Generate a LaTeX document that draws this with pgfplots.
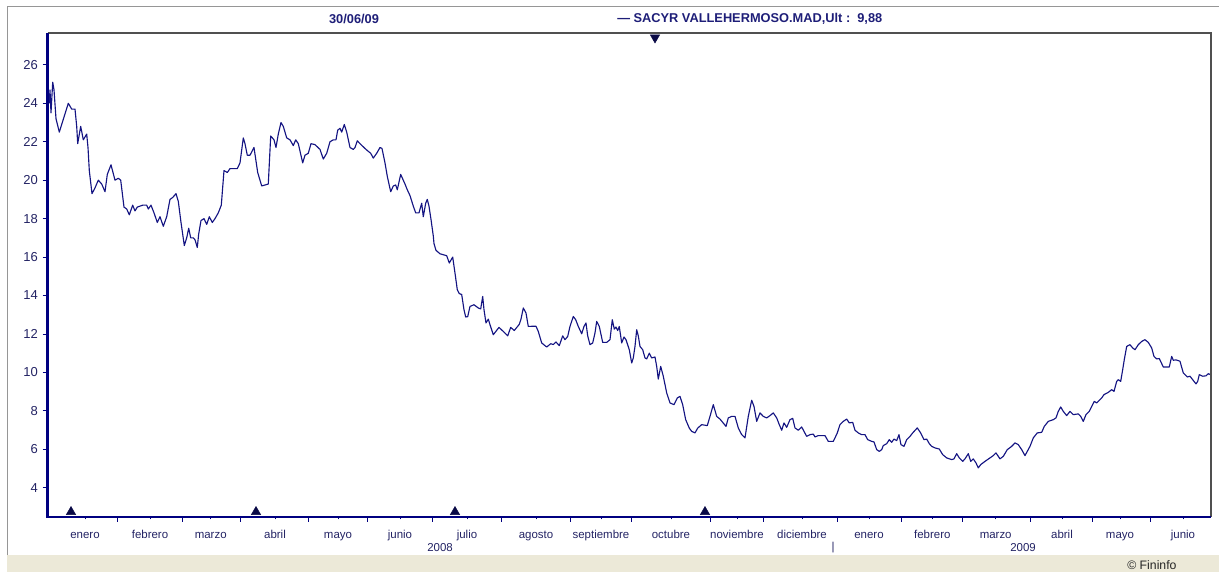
\documentclass[border=0pt]{standalone}
\usepackage{pgfplots}
\pgfplotsset{compat=1.18}
\usepackage{fontspec}
\setmainfont{Liberation Sans}
\definecolor{linenavy}{RGB}{20,20,130}
\definecolor{axisnavy}{RGB}{0,0,128}
\definecolor{ticktext}{RGB}{35,35,100}
\definecolor{headnavy}{RGB}{30,30,120}
\definecolor{beige}{RGB}{236,233,216}
\definecolor{framegray}{RGB}{150,150,150}
\definecolor{axgray}{RGB}{80,80,80}
\definecolor{marknavy}{RGB}{10,10,70}
\begin{document}
\begin{tikzpicture}
\begin{scope}[x=0.75pt,y=0.75pt]
\useasboundingbox (0,0) rectangle (1219,572);
\fill[beige] (7,0) rectangle (1219,17);
\draw[framegray, line width=0.75pt] (7,17) -- (7,565) -- (1219,565);
\end{scope}
\begin{axis}[
  at={(35.625pt,41.475pt)}, anchor=south west,
  scale only axis, width=872.6pt, height=362.8pt,
  xmin=47.5, xmax=1211, ymin=2.49, ymax=27.66,
  axis line style={draw=none},
  clip=false,
  /pgf/number format/assume math mode=true,
  tick align=outside,
  ytick pos=left, xtick pos=bottom,
  major tick length=3.75pt,
  tick style={draw=axisnavy, line width=0.6pt},
  ytick={4,6,...,26},
  yticklabel style={font=\fontsize{9.75}{11}\selectfont, text=ticktext},
  xtick={117.3,182.3,240.7,308.3,367.7,432.3,501.7,570.3,631.7,710.3,763.7,837.3,901,962.3,1030.7,1092,1150.7},
  xticklabels={},
  extra x ticks={85,150,210.7,275,338,400,467,536,601,671,737,802,869,932.3,995.7,1062,1120,1183},
  extra x tick labels={enero,febrero,marzo,abril,mayo,junio,julio,agosto,septiembre,octubre,noviembre,diciembre,enero,febrero,marzo,abril,mayo,junio},
  extra x tick style={major tick length=2pt},
  xticklabel style={font=\fontsize{8.6}{10}\selectfont, text=ticktext, text height=1.6ex, text depth=0.4ex, yshift=-2.5pt},
]
\addplot[linenavy, line width=0.85pt, line join=round] coordinates {
(49.3,24.0)(50.0,24.7)(51.0,23.5)(52.7,25.1)(54.0,24.7)(56.0,23.2)(59.3,22.5)(68.3,24.0)(71.7,23.7)(75.0,23.7)(76.7,22.8)(77.7,21.9)(80.7,22.8)(83.3,22.1)(86.7,22.4)(88.0,21.7)(89.3,20.5)(92.0,19.3)(95.0,19.6)(98.3,20.0)(101.7,19.8)(105.0,19.4)(107.3,20.3)(111.0,20.8)(115.0,20.0)(118.3,20.1)(120.7,20.0)(124.0,18.6)(126.7,18.5)(129.3,18.2)(132.7,18.7)(135.0,18.4)(137.3,18.6)(142.7,18.7)(146.7,18.7)(148.3,18.5)(151.0,18.7)(154.0,18.3)(157.3,17.8)(160.0,18.1)(163.3,17.6)(166.7,18.1)(170.0,19.0)(172.7,19.1)(176.0,19.3)(178.3,18.9)(181.0,17.8)(184.3,16.6)(186.7,17.0)(188.7,17.5)(190.7,17.0)(193.3,17.0)(195.0,16.9)(197.3,16.5)(198.7,17.2)(201.0,17.9)(204.0,18.0)(206.7,17.7)(209.3,18.1)(212.3,17.8)(215.0,18.0)(218.3,18.3)(221.3,18.7)(224.0,20.5)(227.3,20.4)(230.0,20.6)(237.3,20.6)(240.0,20.9)(243.3,22.2)(245.0,21.9)(247.3,21.3)(250.0,21.3)(254.0,21.7)(257.7,20.4)(261.7,19.7)(268.3,19.8)(270.7,22.3)(274.0,22.1)(276.0,21.7)(278.3,22.4)(281.0,23.0)(283.3,22.8)(286.7,22.2)(290.0,22.1)(293.3,21.8)(295.7,22.1)(298.3,21.9)
(302.7,20.9)(305.0,21.3)(308.3,21.4)(311.0,21.9)(315.0,21.85)(320.0,21.6)(323.3,21.1)(326.7,21.4)(330.0,22.0)(333.3,22.1)(336.0,22.1)(337.7,22.6)(340.0,22.7)(341.7,22.5)(344.3,22.9)(346.7,22.5)(350.0,21.7)(353.3,21.6)(355.0,21.7)(357.3,22.05)(360.0,21.9)(365.0,21.65)(368.3,21.5)(370.7,21.4)(373.3,21.15)(376.7,21.4)(380.0,21.7)(382.0,21.65)(385.0,20.9)(387.3,20.2)(390.7,19.4)(393.3,19.7)(395.7,19.75)(397.3,19.5)(400.7,20.3)(405.0,19.8)(407.3,19.5)(410.0,19.2)(413.3,18.65)(415.7,18.3)(419.0,18.3)(421.7,18.8)(423.3,18.1)(425.7,18.8)(427.3,19.0)(429.0,18.65)(431.0,17.96)(433.3,17.1)
(434.0,16.7)(436.0,16.35)(440.0,16.17)(446.7,16.07)(449.3,15.69)(452.7,16.0)(455.0,15.17)(457.3,14.3)(459.3,14.1)(461.7,14.05)(464.0,13.26)(465.7,12.88)(467.7,12.9)(470.0,13.43)(474.0,13.52)(478.3,13.35)(480.7,13.3)(482.7,13.95)(484.0,13.26)(486.0,12.57)(488.3,12.77)(490.0,12.48)(493.3,11.96)(499.0,12.34)(503.3,12.13)(507.7,11.9)(510.7,12.34)(514.3,12.18)(519.3,12.5)(521.0,12.77)(523.3,13.35)(526.0,13.09)(528.3,12.39)(533.3,12.4)(536.0,12.4)(538.3,12.13)(541.7,11.53)(546.7,11.32)(550.7,11.49)(553.3,11.45)(556.0,11.58)(559.3,11.39)(562.7,11.9)(565.0,11.7)(567.7,11.87)(570.0,12.39)(573.3,12.91)(575.7,12.74)(578.3,12.39)(581.7,12.01)(584.0,12.39)(586.0,12.57)(587.7,11.9)(590.0,11.44)(592.7,11.53)(595.0,12.05)(596.7,12.65)(599.3,12.39)(602.7,11.56)(606.7,11.56)(610.0,11.7)(612.3,12.74)(614.3,12.25)(616.0,12.36)(617.7,12.18)(619.3,12.39)(621.7,11.53)(624.0,11.84)(626.0,11.7)(629.3,11.18)(631.7,10.49)(633.3,10.75)(635.0,11.35)(636.7,12.22)(638.3,11.9)(640.0,11.35)(642.7,11.18)(645.0,10.75)(646.7,10.7)(649.3,11.0)(651.7,10.75)(655.0,10.8)(656.7,10.31)(658.3,9.65)(660.7,10.31)(663.3,9.8)(666.7,8.93)(670.0,8.41)(674.0,8.32)(677.3,8.67)(680.0,8.75)(682.7,8.32)(685.7,7.54)(689.3,7.1)(691.7,6.93)(695.0,6.85)(697.7,7.1)(701.7,7.28)(707.3,7.23)(710.0,7.71)(713.3,8.32)(716.7,7.71)(720.0,7.57)
(726.0,7.19)(728.3,7.63)(731.7,7.71)(735.0,7.71)(738.3,7.11)(741.7,6.76)(745.0,6.59)(748.3,7.71)(751.7,8.55)(754.0,8.23)(756.7,7.45)(760.0,7.89)(763.3,7.71)(766.7,7.63)(770.0,7.75)(773.3,7.89)(776.7,7.63)(779.3,7.28)(781.7,6.99)(784.0,7.37)(786.7,7.14)(790.0,7.54)(792.7,7.61)(795.0,7.11)(798.3,6.99)(801.7,7.16)(804.0,6.93)(806.7,6.67)(810.0,6.76)(813.3,6.79)(815.0,6.64)(818.3,6.71)(825.0,6.71)(828.3,6.41)(833.3,6.41)(835.0,6.59)(837.3,6.85)(840.0,7.28)(843.3,7.45)(846.7,7.57)(849.3,7.37)(852.7,7.4)(855.0,6.99)(858.3,6.85)(861.7,6.76)(865.0,6.76)(867.7,6.5)(871.7,6.41)(874.0,6.38)(876.7,5.98)(879.3,5.89)(881.7,5.98)(883.3,6.19)(886.7,6.29)(889.3,6.5)(891.7,6.36)(894.0,6.53)(896.7,6.45)(899.0,6.76)(901.0,6.24)(904.0,6.15)(906.7,6.5)(910.0,6.67)(912.7,6.85)(917.3,7.11)(920.7,6.85)(924.0,6.5)(926.7,6.53)(929.3,6.29)(931.7,6.15)(935.0,6.07)(939.3,6.01)(942.7,5.72)(946.7,5.55)(951.7,5.46)(954.0,5.5)(956.7,5.77)(959.3,5.55)(962.7,5.37)(965.0,5.5)(968.3,5.77)(970.7,5.37)(973.3,5.5)(976.0,5.29)(978.3,5.03)(980.7,5.2)(985.0,5.37)(990.0,5.55)(993.3,5.67)(996.0,5.81)(1000.0,5.5)
(1003.3,5.63)(1007.3,5.98)(1011.7,6.15)(1015.0,6.33)(1018.3,6.24)(1021.7,5.98)(1025.0,5.67)(1030.0,6.15)(1033.3,6.59)(1037.3,6.85)(1041.7,6.88)(1044.3,7.19)(1048.3,7.45)(1053.3,7.54)(1056.0,7.63)(1058.3,7.97)(1060.7,8.2)(1063.3,7.97)(1066.7,7.75)(1070.0,7.97)(1073.3,7.8)(1078.3,7.84)(1080.7,7.71)(1083.3,7.45)(1086.0,7.8)(1089.3,7.97)(1091.7,8.23)(1094.3,8.49)(1096.7,8.41)(1101.7,8.67)(1104.0,8.84)(1108.3,8.96)(1111.7,9.1)(1114.0,9.01)(1116.7,9.53)(1118.3,9.62)(1120.7,9.53)(1122.7,10.14)(1124.3,10.66)(1126.7,11.35)(1130.0,11.44)(1132.7,11.27)(1135.0,11.18)(1138.3,11.44)(1141.7,11.61)(1145.0,11.7)(1148.3,11.56)(1151.7,11.27)(1154.0,10.83)(1156.7,10.7)(1159.3,10.72)(1163.3,10.28)(1169.3,10.28)(1171.7,10.83)(1173.3,10.63)(1176.0,10.65)(1180.0,10.58)(1183.3,9.97)(1185.0,9.88)(1187.3,9.76)(1190.0,9.8)(1192.7,9.62)(1196.0,9.4)(1197.7,9.53)(1199.3,9.88)(1202.7,9.8)(1206.0,9.82)(1208.3,9.93)(1210.7,9.88)
};
\addplot[only marks, mark=triangle*, mark size=4pt, mark options={fill=marknavy, draw=marknavy}] coordinates {(71,2.74)(256,2.74)(455,2.74)(705,2.74)};
\addplot[only marks, mark=triangle*, mark size=4pt, mark options={rotate=180, fill=marknavy, draw=marknavy}] coordinates {(655,27.42)};
\draw[axgray, line width=0.8pt] (rel axis cs:0,1) -- (rel axis cs:1,1) -- (rel axis cs:1,0);
\draw[axisnavy, line width=1.6pt] (rel axis cs:0,1) -- (rel axis cs:0,0) -- (rel axis cs:1,0);
\end{axis}
\begin{scope}[x=0.75pt,y=0.75pt]
\node[font=\bfseries\fontsize{9.6}{11}\selectfont, text=headnavy] at (354,553) {30/06/09};
\node[anchor=west, font=\bfseries\fontsize{9.6}{11}\selectfont, text=headnavy, inner sep=0pt] at (617,553) {— SACYR VALLEHERMOSO.MAD,Ult :\ \ 9,88};
\node[font=\fontsize{8.6}{10}\selectfont, text=ticktext] at (440,24) {2008};
\node[font=\fontsize{8.6}{10}\selectfont, text=ticktext] at (1023,24) {2009};
\node[font=\fontsize{8.6}{10}\selectfont, text=ticktext] at (833,24) {|};
\node[anchor=west, font=\fontsize{9.2}{11}\selectfont, text=black!85, inner sep=0pt] at (1127,7) {© Fininfo};
\end{scope}
\end{tikzpicture}
\end{document}
